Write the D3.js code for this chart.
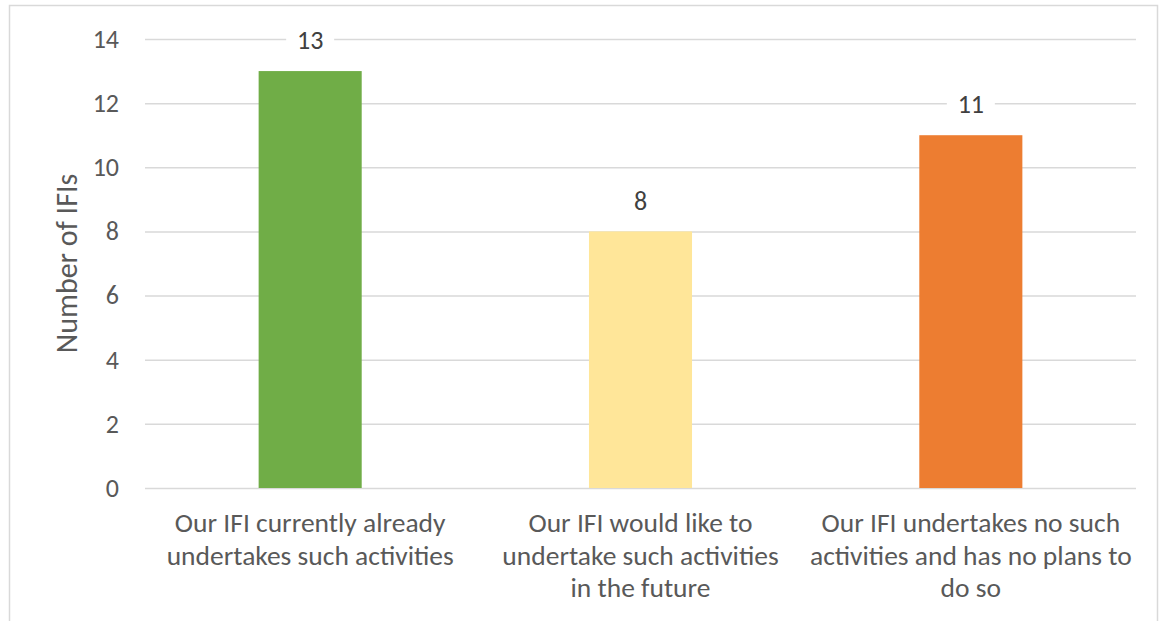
<!DOCTYPE html>
<html>
<head>
<meta charset="utf-8">
<script src="https://cdn.jsdelivr.net/npm/d3@7/dist/d3.min.js"></script>
<style>
  html, body { margin: 0; padding: 0; background: #fff; }
  svg { display: block; font-family: Carlito, "Open Sans", sans-serif; }
</style>
</head>
<body>
<svg id="chart" width="1164" height="621"></svg>
<script>
// Survey responses: number of IFIs per answer
const categories = [
  "Our IFI currently already\nundertakes such activities",
  "Our IFI would like to\nundertake such activities\nin the future",
  "Our IFI undertakes no such\nactivities and has no plans to\ndo so"
];
const counts = [13, 8, 11];
const barColors = ["#70ad47", "#ffe699", "#ed7d31"];
const yTicks = [0, 2, 4, 6, 8, 10, 12, 14];
const yTitle = "Number of IFIs";

const svg = d3.select("#chart");
const W = 1164, H = 621;
const margin = { left: 145, right: 28, top: 39, bottom: 133 };
const plotW = W - margin.left - margin.right;
const plotH = H - margin.top - margin.bottom;

// outer frame
svg.append("rect")
  .attr("x", 9.5).attr("y", 5.5)
  .attr("width", 1148).attr("height", 660)
  .attr("fill", "none").attr("stroke", "#d9d9d9").attr("stroke-width", 1.5);

const g = svg.append("g").attr("transform", `translate(${margin.left},${margin.top})`);

const x = d3.scaleBand()
  .domain(d3.range(categories.length))
  .range([0, plotW])
  .paddingInner(0.688)
  .paddingOuter(0.344);

const y = d3.scaleLinear().domain([0, 14]).range([plotH, 0]);

// gridlines and tick labels
const yAxis = g.append("g")
  .call(d3.axisLeft(y).tickValues(yTicks).tickSizeInner(-plotW).tickSizeOuter(0).tickPadding(26));
yAxis.select(".domain").remove();
yAxis.selectAll(".tick line").attr("stroke", "#d9d9d9").attr("stroke-width", 1.5);
yAxis.selectAll(".tick text")
  .attr("fill", "#595959")
  .style("font-size", "26px")
  .style("font-family", "Carlito, 'Open Sans', sans-serif");

// bars
g.selectAll("rect.bar")
  .data(counts)
  .join("rect")
  .attr("class", "bar")
  .attr("x", (d, i) => x(i))
  .attr("y", d => y(d))
  .attr("width", x.bandwidth())
  .attr("height", d => y(0) - y(d))
  .attr("fill", (d, i) => barColors[i]);

// value labels with white backing
const labels = g.selectAll("g.val")
  .data(counts)
  .join("g")
  .attr("class", "val")
  .attr("transform", (d, i) => `translate(${x(i) + x.bandwidth() / 2},${y(d) - 31})`);
labels.append("rect")
  .attr("x", -24).attr("y", -15).attr("width", 48).attr("height", 30)
  .attr("fill", "#fff");
labels.append("text")
  .attr("text-anchor", "middle")
  .attr("dy", "0.35em")
  .attr("fill", "#404040")
  .style("font-size", "26px")
  .text(d => d);

// category labels
const cat = g.selectAll("text.cat")
  .data(categories)
  .join("text")
  .attr("class", "cat")
  .attr("text-anchor", "middle")
  .attr("fill", "#595959")
  .style("font-size", "27.5px")
  .attr("transform", (d, i) => `translate(${x(i) + x.bandwidth() / 2},${plotH + 44})`);
cat.selectAll("tspan")
  .data(d => d.split("\n"))
  .join("tspan")
  .attr("x", 0)
  .attr("y", (d, i) => i * 32.5)
  .text(d => d);

// y-axis title
svg.append("text")
  .attr("transform", `translate(77,${margin.top + plotH / 2}) rotate(-90)`)
  .attr("text-anchor", "middle")
  .attr("fill", "#595959")
  .style("font-size", "30px")
  .text(yTitle);
</script>
</body>
</html>
